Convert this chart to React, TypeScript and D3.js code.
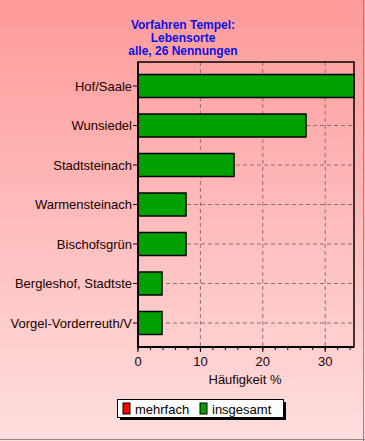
import React from 'react';
import * as d3 from 'd3';

const places = [
    'Hof/Saale',
    'Wunsiedel',
    'Stadtsteinach',
    'Warmensteinach',
    'Bischofsgrün',
    'Bergleshof, Stadtste',
    'Vorgel-Vorderreuth/V',
];
const counts = [9, 7, 4, 2, 2, 1, 1];
const total = 26;
const titleLines = ['Vorfahren Tempel:', 'Lebensorte', 'alle, 26 Nennungen'];
const xTicks = [0, 10, 20, 30];
const legendItems = [
    { label: 'mehrfach', color: '#ff0000' },
    { label: 'insgesamt', color: '#00a000' },
];

const W = 365;
const H = 441;
const plot = { left: 138, right: 354, top: 62, bottom: 347 };
const font = 'Arial, "Liberation Sans", sans-serif';

const App: React.FC = () => {
    const pct = counts.map(c => (c / total) * 100);

    const x = d3.scaleLinear()
        .domain([0, d3.max(pct) || 0])
        .range([plot.left, plot.right]);

    const y = d3.scaleBand<string>()
        .domain(places)
        .range([plot.top, plot.bottom])
        .paddingInner(0.418)
        .paddingOuter(0.317);

    const minorTicks = d3.range(0, x.domain()[1], 2);

    return (
        <svg width={W} height={H} style={{ position: 'absolute', left: 0, top: 0, display: 'block' }}>
            <defs>
                <linearGradient id="bg" x1="0" y1="0" x2="0" y2="1">
                    <stop offset="0" stopColor="#ff9a9a" />
                    <stop offset="1" stopColor="#ffdede" />
                </linearGradient>
            </defs>
            <rect x={0} y={0} width={W} height={H} fill="url(#bg)" />
            <line x1={W - 1.5} y1={0} x2={W - 1.5} y2={H} stroke="#8a8a8a" strokeWidth={1} />
            <line x1={0} y1={H - 1.5} x2={W} y2={H - 1.5} stroke="#8a8a8a" strokeWidth={1} />

            {/* title */}
            {titleLines.map((t, i) => (
                <text key={t} x={183} y={29 + i * 13} textAnchor="middle"
                      fontFamily={font} fontSize={12} fontWeight="bold" fill="#1010e0">{t}</text>
            ))}

            {/* grid */}
            {xTicks.filter(t => t > 0).map(t => (
                <line key={'gx' + t} x1={x(t)} x2={x(t)} y1={plot.top} y2={plot.bottom}
                      stroke="#907070" strokeDasharray="4,3" strokeWidth={1} />
            ))}
            {places.map(p => (
                <line key={'gy' + p} x1={plot.left} x2={plot.right}
                      y1={(y(p) || 0) + y.bandwidth() / 2} y2={(y(p) || 0) + y.bandwidth() / 2}
                      stroke="#907070" strokeDasharray="4,3" strokeWidth={1} />
            ))}

            {/* bars */}
            {places.map((p, i) => (
                <rect key={'b' + p} x={x(0)} y={y(p)} width={x(pct[i]) - x(0)} height={y.bandwidth()}
                      fill="#00a000" stroke="#000" strokeWidth={1.5} />
            ))}

            {/* frame */}
            <rect x={plot.left} y={plot.top} width={plot.right - plot.left} height={plot.bottom - plot.top}
                  fill="none" stroke="#000" strokeWidth={1.5} />
            <line x1={plot.left} x2={plot.left} y1={plot.top} y2={plot.bottom + 1} stroke="#000" strokeWidth={2} />
            <line x1={plot.left} x2={plot.right} y1={plot.bottom} y2={plot.bottom} stroke="#000" strokeWidth={2} />

            {/* y axis */}
            {places.map(p => {
                const cy = (y(p) || 0) + y.bandwidth() / 2;
                return (
                    <g key={'yl' + p}>
                        <line x1={plot.left - 5} x2={plot.left} y1={cy} y2={cy} stroke="#000" />
                        <text x={plot.left - 6} y={cy} dy="0.35em" textAnchor="end"
                              fontFamily={font} fontSize={13} fill="#200000">{p}</text>
                    </g>
                );
            })}

            {/* x axis */}
            {minorTicks.map(t => (
                <line key={'mt' + t} x1={x(t)} x2={x(t)} y1={plot.bottom} y2={plot.bottom + 3} stroke="#000" />
            ))}
            {xTicks.map(t => (
                <g key={'xt' + t}>
                    <line x1={x(t)} x2={x(t)} y1={plot.bottom} y2={plot.bottom + 5} stroke="#000" />
                    <text x={x(t)} y={plot.bottom + 19} textAnchor="middle"
                          fontFamily={font} fontSize={13} fill="#200000">{t}</text>
                </g>
            ))}
            <text x={245} y={384} textAnchor="middle" fontFamily={font} fontSize={13} fill="#200000">
                Häufigkeit %
            </text>

            {/* legend */}
            <rect x={120} y={402} width={166} height={18} fill="#000" />
            <rect x={117.5} y={399.5} width={166} height={18} fill="#fff" stroke="#000" strokeWidth={1} />
            {legendItems.map((it, i) => {
                const lx = 123 + i * 77;
                return (
                    <g key={it.label}>
                        <rect x={lx} y={403} width={7} height={11} fill={it.color} stroke="#000" strokeWidth={1} />
                        <text x={lx + 12} y={413.5} fontFamily={font} fontSize={13} fill="#000">{it.label}</text>
                    </g>
                );
            })}
        </svg>
    );
};

export default App;
